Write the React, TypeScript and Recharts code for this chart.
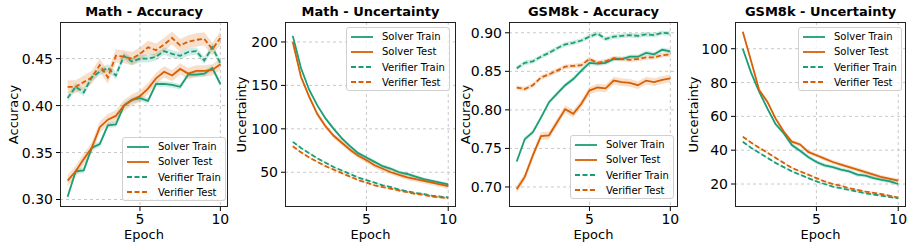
import React from 'react'
import {
  ComposedChart, Line, Area, XAxis, YAxis, CartesianGrid,
} from 'recharts'

const GREEN = '#1b9e77'
const ORANGE = '#d95f02'
const FONT = '"DejaVu Sans", Verdana, sans-serif'

const epochs = [0.5, 1, 1.5, 2, 2.5, 3, 3.5, 4, 4.5, 5, 5.5, 6, 6.5, 7, 7.5, 8, 8.5, 9, 9.5, 10]

const seriesNames = ['Solver Train', 'Solver Test', 'Verifier Train', 'Verifier Test']

// Math - Accuracy
const mathAccSolverTrain = [0.303, 0.330, 0.331, 0.355, 0.359, 0.379, 0.380, 0.400, 0.406, 0.408, 0.405, 0.423, 0.423, 0.422, 0.420, 0.433, 0.433, 0.434, 0.440, 0.423]
const mathAccSolverTest = [0.320, 0.330, 0.343, 0.355, 0.377, 0.385, 0.389, 0.400, 0.406, 0.410, 0.418, 0.429, 0.436, 0.432, 0.439, 0.434, 0.437, 0.437, 0.438, 0.444]
const mathAccVerifierTrain = [0.408, 0.420, 0.414, 0.430, 0.436, 0.440, 0.432, 0.453, 0.447, 0.450, 0.450, 0.452, 0.458, 0.455, 0.453, 0.457, 0.458, 0.448, 0.462, 0.445]
const mathAccVerifierTest = [0.420, 0.420, 0.425, 0.430, 0.443, 0.430, 0.453, 0.452, 0.450, 0.455, 0.462, 0.459, 0.465, 0.472, 0.464, 0.468, 0.470, 0.471, 0.460, 0.472]
const mathAccSpread = [0.003, 0.006, 0.004, 0.007]

// Math - Uncertainty
const mathUncSolverTrain = [207, 170, 145, 127, 112, 100, 89, 80, 72, 67, 62, 57, 54, 50, 48, 45, 42, 40, 38, 36]
const mathUncSolverTest = [200, 160, 137, 117, 103, 92, 84, 76, 69, 64, 58, 54, 50, 47, 44, 42, 40, 38, 36, 34]
const mathUncVerifierTrain = [85, 78, 72, 66, 61, 56, 52, 48, 44, 41, 38, 35, 33, 30, 28, 26, 25, 23, 22, 21]
const mathUncVerifierTest = [80, 73, 67, 62, 57, 53, 49, 45, 41, 38, 35, 33, 31, 29, 27, 25, 24, 22, 21, 20]
const mathUncSpread = [2, 3, 1, 1]

// GSM8k - Accuracy
const gsmAccSolverTrain = [0.733, 0.762, 0.771, 0.790, 0.810, 0.821, 0.832, 0.840, 0.851, 0.861, 0.860, 0.861, 0.866, 0.866, 0.869, 0.869, 0.874, 0.872, 0.878, 0.876]
const gsmAccSolverTest = [0.697, 0.713, 0.741, 0.766, 0.767, 0.784, 0.801, 0.795, 0.808, 0.825, 0.829, 0.828, 0.838, 0.836, 0.835, 0.832, 0.838, 0.836, 0.839, 0.841]
const gsmAccVerifierTrain = [0.854, 0.861, 0.863, 0.869, 0.874, 0.880, 0.885, 0.887, 0.890, 0.895, 0.899, 0.892, 0.895, 0.896, 0.897, 0.896, 0.898, 0.897, 0.900, 0.899]
const gsmAccVerifierTest = [0.829, 0.827, 0.832, 0.842, 0.846, 0.851, 0.856, 0.857, 0.858, 0.866, 0.861, 0.863, 0.867, 0.866, 0.865, 0.866, 0.868, 0.868, 0.871, 0.872]
const gsmAccSpread = [0.003, 0.005, 0.003, 0.003]

// GSM8k - Uncertainty
const gsmUncSolverTrain = [100, 86, 74.6, 64.7, 55.5, 50, 43, 39.7, 36, 33, 31, 30, 28.5, 27.5, 25.5, 25, 23.5, 22.5, 21.5, 20]
const gsmUncSolverTest = [110, 93, 75.6, 68.7, 58.8, 51, 45, 43.4, 39, 37, 35, 33, 31.5, 30, 28.5, 27, 25.5, 24, 23, 22]
const gsmUncVerifierTrain = [45, 41.5, 38.5, 35.5, 32.5, 30, 27.5, 25.5, 23.5, 21.5, 20, 18.5, 17.5, 16.5, 15.5, 14.5, 13.8, 13, 12.3, 11.5]
const gsmUncVerifierTest = [48, 44.5, 41.5, 38.5, 35.5, 32.5, 29.5, 27.5, 25.5, 23.5, 21.5, 20, 19, 17.5, 16.5, 15.5, 14.8, 14, 13, 12]
const gsmUncSpread = [1.2, 1.2, 0.5, 0.5]

function buildRows(series: number[][], spread: number[]) {
  return epochs.map((e, i) => {
    const row: any = { epoch: e }
    series.forEach((s, k) => {
      row['s' + k] = s[i]
      row['b' + k] = [s[i] - spread[k], s[i] + spread[k]]
    })
    return row
  })
}

const styles = [
  { color: GREEN, dash: undefined },
  { color: ORANGE, dash: undefined },
  { color: GREEN, dash: '5 2.5' },
  { color: ORANGE, dash: '5 2.5' },
]

function YLabel({ viewBox, text, cx }: any) {
  const cy = viewBox.y + viewBox.height / 2
  return (
    <text x={cx} y={cy} transform={`rotate(-90, ${cx}, ${cy})`} textAnchor="middle"
      dominantBaseline="central" fontSize={13} fontFamily={FONT} fill="#000">{text}</text>
  )
}

function Legend({ left, top }: { left: number, top: number }) {
  return (
    <div style={{
      position: 'absolute', left, top, width: 104, height: 64, boxSizing: 'border-box',
      border: '1px solid #d0d0d0', borderRadius: 3, background: 'rgba(255,255,255,0.8)',
    }}>
      {seriesNames.map((n, k) => (
        <div key={n} style={{ position: 'absolute', left: 3, top: 1 + k * 15.3, height: 15, display: 'flex', alignItems: 'center' }}>
          <svg width={24} height={10}>
            <line x1={1} y1={5} x2={23} y2={5} stroke={styles[k].color} strokeWidth={1.8} strokeDasharray={styles[k].dash} />
          </svg>
          <span style={{ marginLeft: 8, fontSize: 10, fontFamily: FONT, whiteSpace: 'nowrap', color: '#000' }}>{n}</span>
        </div>
      ))}
    </div>
  )
}

interface PanelProps {
  left: number
  yWidth: number
  width: number
  title: string
  yLabel: string
  yLabelX: number
  rows: any[]
  domain: [number, number]
  ticks: number[]
  fmt: (v: number) => string
  legendLeft: number
  legendTop: number
}

function Panel(p: PanelProps) {
  const plotLeft = p.yWidth
  const plotWidth = p.width - 7 - p.yWidth
  return (
    <div style={{ position: 'absolute', left: p.left, top: 0, width: p.width, height: 250 }}>
      <ComposedChart width={p.width} height={250} data={p.rows} margin={{ top: 22, right: 7, bottom: 0, left: 0 }}>
        <CartesianGrid stroke="#c8c8c8" strokeDasharray="3 3" horizontalValues={p.ticks} verticalValues={[5, 10]} />
        <XAxis dataKey="epoch" type="number" domain={[0.025, 10.475]} ticks={[5, 10]} height={43}
          tick={{ fontSize: 14, fill: '#000', fontFamily: FONT }} tickSize={4} tickMargin={3}
          tickLine={{ stroke: '#000' }} axisLine={false}
          label={{ value: 'Epoch', position: 'insideBottom', offset: 11, fontSize: 13, fill: '#000', fontFamily: FONT }} />
        <YAxis type="number" domain={p.domain} ticks={p.ticks} allowDataOverflow width={p.yWidth}
          tickFormatter={p.fmt} tick={{ fontSize: 14, fill: '#000', fontFamily: FONT }} tickSize={4} tickMargin={3}
          tickLine={{ stroke: '#000' }} axisLine={false}
          label={<YLabel text={p.yLabel} cx={p.yLabelX} />} />
        {[0, 1, 2, 3].map(k => (
          <Area key={'b' + k} dataKey={'b' + k} type="linear" stroke="none" fill={styles[k].color}
            fillOpacity={0.2} isAnimationActive={false} legendType="none" />
        ))}
        {[0, 1, 2, 3].map(k => (
          <Line key={'s' + k} dataKey={'s' + k} type="linear" stroke={styles[k].color} strokeWidth={1.8}
            strokeDasharray={styles[k].dash} dot={false} isAnimationActive={false} />
        ))}
      </ComposedChart>
      <div style={{
        position: 'absolute', left: plotLeft, top: 22, width: plotWidth, height: 185,
        border: '1px solid #222', boxSizing: 'border-box', pointerEvents: 'none',
      }} />
      <div style={{
        position: 'absolute', left: plotLeft, top: 3, width: plotWidth, textAlign: 'center',
        fontSize: 13, fontWeight: 'bold', fontFamily: FONT, lineHeight: '18px', color: '#000',
      }}>{p.title}</div>
      <Legend left={p.legendLeft - p.left} top={p.legendTop} />
    </div>
  )
}

const fmt2 = (v: number) => v.toFixed(2)
const fmt0 = (v: number) => String(v)

export default function App() {
  return (
    <div style={{ position: 'absolute', left: 0, top: 0, width: 913, height: 250, background: '#fff', overflow: 'hidden' }}>
      <Panel left={0} yWidth={60} width={235} title="Math - Accuracy" yLabel="Accuracy" yLabelX={13}
        rows={buildRows([mathAccSolverTrain, mathAccSolverTest, mathAccVerifierTrain, mathAccVerifierTest], mathAccSpread)}
        domain={[0.292, 0.489]} ticks={[0.30, 0.35, 0.40, 0.45]} fmt={fmt2} legendLeft={122} legendTop={137} />
      <Panel left={228} yWidth={57} width={235} title="Math - Uncertainty" yLabel="Uncertainty" yLabelX={13}
        rows={buildRows([mathUncSolverTrain, mathUncSolverTest, mathUncVerifierTrain, mathUncVerifierTest], mathUncSpread)}
        domain={[10, 223]} ticks={[50, 100, 150, 200]} fmt={fmt0} legendLeft={346} legendTop={27} />
      <Panel left={455} yWidth={54} width={230} title="GSM8k - Accuracy" yLabel="Accuracy" yLabelX={10}
        rows={buildRows([gsmAccSolverTrain, gsmAccSolverTest, gsmAccVerifierTrain, gsmAccVerifierTest], gsmAccSpread)}
        domain={[0.674, 0.914]} ticks={[0.70, 0.75, 0.80, 0.85, 0.90]} fmt={fmt2} legendLeft={570} legendTop={135} />
      <Panel left={683} yWidth={52} width={230} title="GSM8k - Uncertainty" yLabel="Uncertainty" yLabelX={10}
        rows={buildRows([gsmUncSolverTrain, gsmUncSolverTest, gsmUncVerifierTrain, gsmUncVerifierTest], gsmUncSpread)}
        domain={[6.4, 115.8]} ticks={[20, 40, 60, 80, 100]} fmt={fmt0} legendLeft={798} legendTop={27} />
    </div>
  )
}
